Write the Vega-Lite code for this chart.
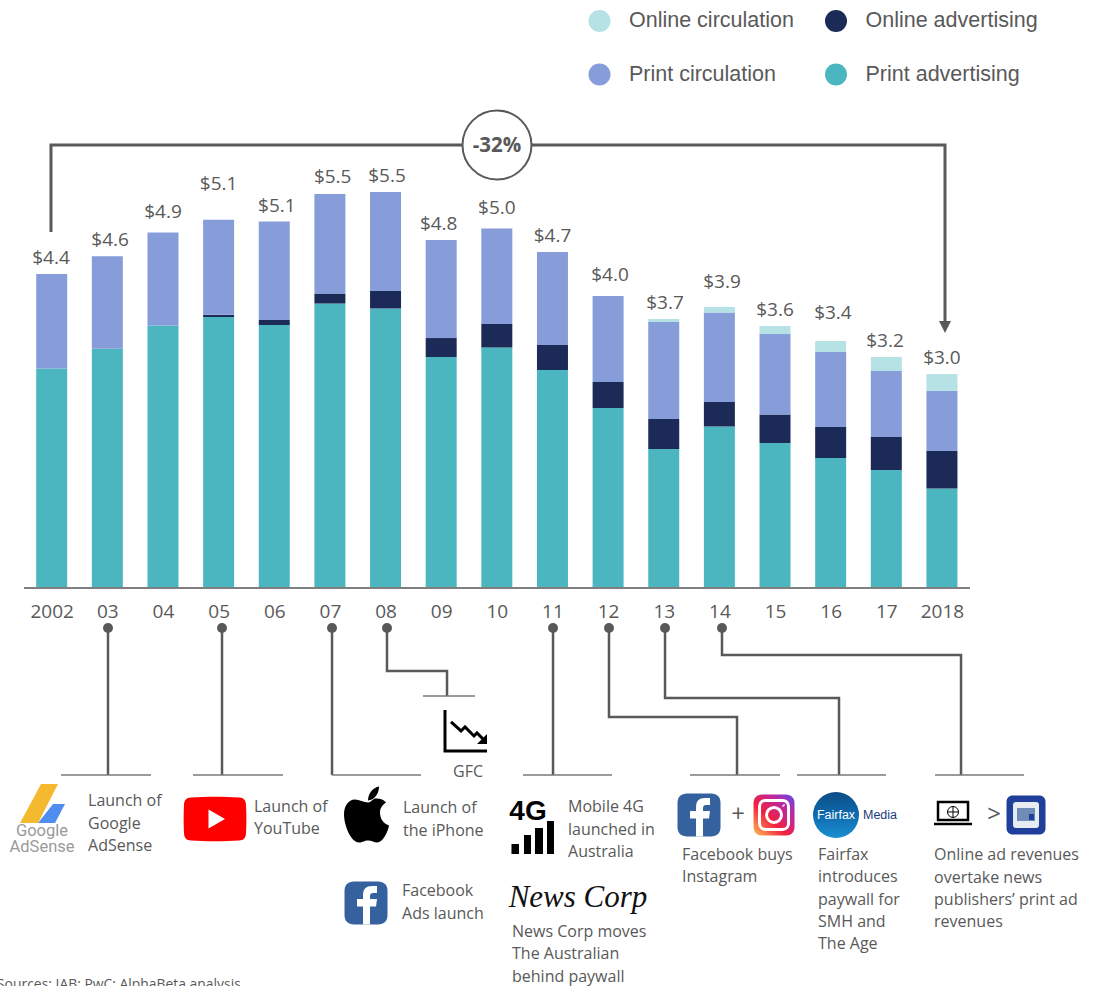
{"$schema":"https://vega.github.io/schema/vega-lite/v6.json","width":1101,"height":986,"padding":0,"autosize":{"type":"none"},"background":"white","config":{"view":{"stroke":null}},
"encoding":{"x":{"field":"year","type":"quantitative","title":null,"scale":{"domain":[2001.0708,2020.8587],"nice":false,"zero":false,"padding":0},"axis":{"values":[2002,2003,2004,2005,2006,2007,2008,2009,2010,2011,2012,2013,2014,2015,2016,2017,2018],"labelExpr":"datum.value==2002||datum.value==2018?format(datum.value,'d'):slice(format(datum.value,'d'),2)","offset":-398,"domain":false,"ticks":false,"tickSize":0,"grid":false,"labelPadding":14,"labelFont":"Open Sans","labelFontSize":19,"labelColor":"#595959","labelOverlap":false,"labelFlush":false,"title":null}},"y":{"field":"value","type":"quantitative","title":null,"scale":{"domain":[-5.5587,8.2123],"nice":false,"zero":false},"axis":null}},
"layer":[
{"data":{"values":[
{"year":2002,"stream":"Print advertising","rank":1,"value":3.066},{"year":2002,"stream":"Print circulation","rank":3,"value":1.32},
{"year":2003,"stream":"Print advertising","rank":1,"value":3.34},{"year":2003,"stream":"Print circulation","rank":3,"value":1.295},
{"year":2004,"stream":"Print advertising","rank":1,"value":3.666},{"year":2004,"stream":"Print circulation","rank":3,"value":1.3},
{"year":2005,"stream":"Print advertising","rank":1,"value":3.785},{"year":2005,"stream":"Online advertising","rank":2,"value":0.03},{"year":2005,"stream":"Print circulation","rank":3,"value":1.327},
{"year":2006,"stream":"Print advertising","rank":1,"value":3.673},{"year":2006,"stream":"Online advertising","rank":2,"value":0.07},{"year":2006,"stream":"Print circulation","rank":3,"value":1.376},
{"year":2007,"stream":"Print advertising","rank":1,"value":3.973},{"year":2007,"stream":"Online advertising","rank":2,"value":0.133},{"year":2007,"stream":"Print circulation","rank":3,"value":1.397},
{"year":2008,"stream":"Print advertising","rank":1,"value":3.904},{"year":2008,"stream":"Online advertising","rank":2,"value":0.244},{"year":2008,"stream":"Print circulation","rank":3,"value":1.383},
{"year":2009,"stream":"Print advertising","rank":1,"value":3.226},{"year":2009,"stream":"Online advertising","rank":2,"value":0.265},{"year":2009,"stream":"Print circulation","rank":3,"value":1.369},
{"year":2010,"stream":"Print advertising","rank":1,"value":3.359},{"year":2010,"stream":"Online advertising","rank":2,"value":0.328},{"year":2010,"stream":"Print circulation","rank":3,"value":1.334},
{"year":2011,"stream":"Print advertising","rank":1,"value":3.045},{"year":2011,"stream":"Online advertising","rank":2,"value":0.349},{"year":2011,"stream":"Print circulation","rank":3,"value":1.299},
{"year":2012,"stream":"Print advertising","rank":1,"value":2.514},{"year":2012,"stream":"Online advertising","rank":2,"value":0.363},{"year":2012,"stream":"Print circulation","rank":3,"value":1.201},
{"year":2013,"stream":"Print advertising","rank":1,"value":1.941},{"year":2013,"stream":"Online advertising","rank":2,"value":0.419},{"year":2013,"stream":"Print circulation","rank":3,"value":1.355},{"year":2013,"stream":"Online circulation","rank":4,"value":0.042},
{"year":2014,"stream":"Print advertising","rank":1,"value":2.256},{"year":2014,"stream":"Online advertising","rank":2,"value":0.342},{"year":2014,"stream":"Print circulation","rank":3,"value":1.25},{"year":2014,"stream":"Online circulation","rank":4,"value":0.077},
{"year":2015,"stream":"Print advertising","rank":1,"value":2.025},{"year":2015,"stream":"Online advertising","rank":2,"value":0.398},{"year":2015,"stream":"Print circulation","rank":3,"value":1.124},{"year":2015,"stream":"Online circulation","rank":4,"value":0.112},
{"year":2016,"stream":"Print advertising","rank":1,"value":1.816},{"year":2016,"stream":"Online advertising","rank":2,"value":0.433},{"year":2016,"stream":"Print circulation","rank":3,"value":1.047},{"year":2016,"stream":"Online circulation","rank":4,"value":0.154},
{"year":2017,"stream":"Print advertising","rank":1,"value":1.648},{"year":2017,"stream":"Online advertising","rank":2,"value":0.461},{"year":2017,"stream":"Print circulation","rank":3,"value":0.922},{"year":2017,"stream":"Online circulation","rank":4,"value":0.196},
{"year":2018,"stream":"Print advertising","rank":1,"value":1.39},{"year":2018,"stream":"Online advertising","rank":2,"value":0.524},{"year":2018,"stream":"Print circulation","rank":3,"value":0.838},{"year":2018,"stream":"Online circulation","rank":4,"value":0.237}
]},"mark":{"type":"bar","size":31},"encoding":{"color":{"field":"stream","type":"nominal","scale":{"domain":["Online circulation","Online advertising","Print circulation","Print advertising"],"range":["#B6E2E6","#1B2A56","#869DDA","#4CB6C0"]},"legend":{"orient":"none","legendX":588.5,"legendY":10,"title":null,"columns":2,"direction":"horizontal","symbolType":"circle","symbolSize":484,"symbolStrokeWidth":0,"labelFontSize":21.5,"labelFont":"Liberation Sans","labelColor":"#595959","labelOffset":18.5,"rowPadding":31.5,"columnPadding":30.5,"labelLimit":300}},"order":{"field":"rank","type":"quantitative"}}},
{"data":{"values":[{"year":2001.502,"value":0,"step":1},{"year":2018.504,"value":0,"step":2}]},"mark":{"type":"line","color":"#7f7f7f","strokeWidth":2},"encoding":{"order":{"field":"step","type":"quantitative"}}},
{"data":{"values":[
{"year":2001.987,"value":4.623,"text":"$4.4"},{"year":2003.049,"value":4.874,"text":"$4.6"},{"year":2004,"value":5.265,"text":"$4.9"},{"year":2005,"value":5.656,"text":"$5.1"},{"year":2006.046,"value":5.349,"text":"$5.1"},{"year":2007.05,"value":5.754,"text":"$5.5"},{"year":2008.027,"value":5.768,"text":"$5.5"},{"year":2008.955,"value":5.098,"text":"$4.8"},{"year":2010,"value":5.321,"text":"$5.0"},{"year":2011,"value":4.93,"text":"$4.7"},{"year":2012.034,"value":4.385,"text":"$4.0"},{"year":2013.023,"value":3.994,"text":"$3.7"},{"year":2014.047,"value":4.288,"text":"$3.9"},{"year":2015,"value":3.897,"text":"$3.6"},{"year":2016.041,"value":3.855,"text":"$3.4"},{"year":2016.977,"value":3.464,"text":"$3.2"},{"year":2018,"value":3.226,"text":"$3.0"}
]},"mark":{"type":"text","font":"Open Sans","fontSize":19,"dy":1,"color":"#595959","align":"center","baseline":"middle"},"encoding":{"text":{"field":"text","type":"nominal"}}},
{"data":{"values":[
{"id":"a","step":1,"year":2001.987,"value":4.972},{"id":"a","step":2,"year":2001.987,"value":6.187},{"id":"a","step":3,"year":2009.374,"value":6.187},
{"id":"b","step":1,"year":2010.632,"value":6.187},{"id":"b","step":2,"year":2018.055,"value":6.187},{"id":"b","step":3,"year":2018.055,"value":3.715}
]},"mark":{"type":"line","color":"#595959","strokeWidth":3,"strokeJoin":"miter"},"encoding":{"detail":{"field":"id"},"order":{"field":"step","type":"quantitative"}}},
{"data":{"values":[{"year":2018.055,"value":3.645}]},"mark":{"type":"point","shape":"M -6 -6 L 6 -6 L 0 6 Z","size":4,"filled":true,"fill":"#595959","opacity":1}},
{"data":{"values":[{"year":2010.003,"value":6.187}]},"mark":{"type":"point","shape":"circle","size":4761,"filled":true,"fill":"white","stroke":"#595959","strokeWidth":2,"opacity":1}},
{"data":{"values":[{"year":2010.003,"value":6.187,"text":"-32%"}]},"mark":{"type":"text","font":"Open Sans","fontSize":20.5,"dy":1,"fontWeight":"bold","color":"#595959","align":"center","baseline":"middle"},"encoding":{"text":{"field":"text","type":"nominal"}}},
{"data":{"name":"leaders","values":[
{"id":"03","step":1,"year":2003.012,"value":-0.559},{"id":"03","step":2,"year":2003.012,"value":-2.612},
{"id":"05","step":1,"year":2005.061,"value":-0.559},{"id":"05","step":2,"year":2005.061,"value":-2.612},
{"id":"07","step":1,"year":2007.038,"value":-0.559},{"id":"07","step":2,"year":2007.038,"value":-2.612},
{"id":"08","step":1,"year":2008.026,"value":-0.559},{"id":"08","step":2,"year":2008.026,"value":-1.159},{"id":"08","step":3,"year":2009.105,"value":-1.159},{"id":"08","step":4,"year":2009.105,"value":-1.508},
{"id":"11","step":1,"year":2011.01,"value":-0.559},{"id":"11","step":2,"year":2011.01,"value":-2.612},
{"id":"12","step":1,"year":2012.016,"value":-0.559},{"id":"12","step":2,"year":2012.016,"value":-1.802},{"id":"12","step":3,"year":2014.317,"value":-1.802},{"id":"12","step":4,"year":2014.317,"value":-2.612},
{"id":"13","step":1,"year":2013.023,"value":-0.559},{"id":"13","step":2,"year":2013.023,"value":-1.536},{"id":"13","step":3,"year":2016.15,"value":-1.536},{"id":"13","step":4,"year":2016.15,"value":-2.612},
{"id":"14","step":1,"year":2014.047,"value":-0.559},{"id":"14","step":2,"year":2014.047,"value":-0.936},{"id":"14","step":3,"year":2018.343,"value":-0.936},{"id":"14","step":4,"year":2018.343,"value":-2.612}
]},"layer":[
{"mark":{"type":"line","color":"#595959","strokeWidth":2.5,"strokeJoin":"miter"},"encoding":{"detail":{"field":"id"},"order":{"field":"step","type":"quantitative"}}},
{"transform":[{"filter":"datum.step==1"}],"mark":{"type":"point","shape":"circle","size":100,"filled":true,"fill":"#595959","opacity":1}}
]},
{"data":{"values":[
{"id":"03","step":1,"year":2002.167,"value":-2.612},{"id":"03","step":2,"year":2003.785,"value":-2.612},
{"id":"05","step":1,"year":2004.54,"value":-2.612},{"id":"05","step":2,"year":2006.157,"value":-2.612},
{"id":"07","step":1,"year":2007.038,"value":-2.612},{"id":"07","step":2,"year":2008.637,"value":-2.612},
{"id":"08","step":1,"year":2008.673,"value":-1.508},{"id":"08","step":2,"year":2009.608,"value":-1.508},
{"id":"11","step":1,"year":2010.471,"value":-2.612},{"id":"11","step":2,"year":2012.07,"value":-2.612},
{"id":"12","step":1,"year":2013.472,"value":-2.612},{"id":"12","step":2,"year":2015.09,"value":-2.612},
{"id":"13","step":1,"year":2015.395,"value":-2.612},{"id":"13","step":2,"year":2016.995,"value":-2.612},
{"id":"14","step":1,"year":2017.876,"value":-2.612},{"id":"14","step":2,"year":2019.475,"value":-2.612}
]},"mark":{"type":"line","color":"#7a7a7a","strokeWidth":1.5},"encoding":{"detail":{"field":"id"},"order":{"field":"step","type":"quantitative"}}},
{"data":{"values":[
{"year":2002.653,"value":-2.961,"text":"Launch of"},{"year":2002.653,"value":-3.282,"text":"Google"},{"year":2002.653,"value":-3.589,"text":"AdSense"},
{"year":2005.636,"value":-3.045,"text":"Launch of"},{"year":2005.636,"value":-3.352,"text":"YouTube"},
{"year":2008.314,"value":-3.059,"text":"Launch of"},{"year":2008.314,"value":-3.38,"text":"the iPhone"},
{"year":2008.296,"value":-4.218,"text":"Facebook"},{"year":2008.296,"value":-4.539,"text":"Ads launch"},
{"year":2009.213,"value":-2.556,"text":"GFC"},
{"year":2011.28,"value":-3.045,"text":"Mobile 4G"},{"year":2011.28,"value":-3.366,"text":"launched in"},{"year":2011.28,"value":-3.673,"text":"Australia"},
{"year":2010.273,"value":-4.791,"text":"News Corp moves"},{"year":2010.273,"value":-5.098,"text":"The Australian"},{"year":2010.273,"value":-5.419,"text":"behind paywall"},
{"year":2013.328,"value":-3.715,"text":"Facebook buys"},{"year":2013.328,"value":-4.022,"text":"Instagram"},
{"year":2015.773,"value":-3.715,"text":"Fairfax"},{"year":2015.773,"value":-4.022,"text":"introduces"},{"year":2015.773,"value":-4.344,"text":"paywall for"},{"year":2015.773,"value":-4.651,"text":"SMH and"},{"year":2015.773,"value":-4.958,"text":"The Age"},
{"year":2017.858,"value":-3.715,"text":"Online ad revenues"},{"year":2017.858,"value":-4.036,"text":"overtake news"},{"year":2017.858,"value":-4.344,"text":"publishers’ print ad"},{"year":2017.858,"value":-4.651,"text":"revenues"}
]},"mark":{"type":"text","font":"Open Sans","fontSize":16,"dy":1,"color":"#595959","align":"left","baseline":"middle"},"encoding":{"text":{"field":"text","type":"nominal"}}},
{"data":{"values":[{"year":2001.017,"value":-5.545,"text":"Sources: IAB; PwC; AlphaBeta analysis"}]},"mark":{"type":"text","font":"Open Sans","fontSize":13.9,"color":"#595959","align":"left","baseline":"middle"},"encoding":{"text":{"field":"text","type":"nominal"}}},
{"data":{"values":[{"year":2001.826,"value":-3.017}]},"mark":{"type":"point","shape":"M -1 -20 L 16 -20 L -4 19 L -22 19 Z","size":4,"filled":true,"fill":"#F4B92F","opacity":1}},
{"data":{"values":[{"year":2001.826,"value":-3.017}]},"mark":{"type":"point","shape":"M 11 0 L 23 0 L 13 19 L -4 19 Z","size":4,"filled":true,"fill":"#4F8EF0","opacity":1}},
{"data":{"values":[{"year":2001.826,"value":-3.394,"text":"Google"},{"year":2001.826,"value":-3.617,"text":"AdSense"}]},"mark":{"type":"text","font":"Roboto","fontSize":16.5,"color":"#9a9a9a","align":"center","baseline":"middle"},"encoding":{"text":{"field":"text","type":"nominal"}}},
{"data":{"values":[{"year":2004.935,"value":-3.226}]},"mark":{"type":"point","shape":"M -24 -21.5 C -10 -22.5 10 -22.5 24 -21.5 C 29 -21.5 31 -18 31 -14 C 31.5 -5 31.5 5 31 14 C 31 18 29 21.5 24 21.5 C 10 22.5 -10 22.5 -24 21.5 C -29 21.5 -31 18 -31 14 C -31.5 5 -31.5 -5 -31 -14 C -31 -18 -29 -21.5 -24 -21.5 Z","size":4,"filled":true,"fill":"#FF0000","opacity":1}},
{"data":{"values":[{"year":2004.935,"value":-3.226}]},"mark":{"type":"point","shape":"M -6.5 -9.5 L 10 0 L -6.5 9.5 Z","size":4,"filled":true,"fill":"white","opacity":1}},
{"data":{"values":[{"year":2007.667,"value":-3.177}]},"mark":{"type":"point","shape":"M 1 -13 C -3 -13 -8 -16 -12 -16 C -19 -16 -23 -9 -23 -1 C -23 10 -16 27 -8 27 C -4 27 -3 25 1 25 C 5 25 7 27 10 27 C 16 27 21 16 22 10 C 16 8 13 3 13 -3 C 13 -8 16 -11 19 -13 C 16 -17 11 -17 8 -17 C 6 -17 4 -13 1 -13 Z M 1 -15 C 1 -22 6 -28 12 -29 C 12 -22 8 -16 1 -15 Z","size":4,"filled":true,"fill":"black","opacity":1}},
{"data":{"values":[{"year":2007.649,"value":-4.399},{"year":2013.634,"value":-3.17}]},"layer":[
{"mark":{"type":"point","shape":"M -12 -21.5 L 12 -21.5 C 18 -21.5 21.5 -18 21.5 -12 L 21.5 12 C 21.5 18 18 21.5 12 21.5 L -12 21.5 C -18 21.5 -21.5 18 -21.5 12 L -21.5 -12 C -21.5 -18 -18 -21.5 -12 -21.5 Z","size":4,"filled":true,"fill":"#36619F","opacity":1}},
{"mark":{"type":"point","shape":"M -3 21.5 L -3 3.5 L -9 3.5 L -9 -4 L -3 -4 L -3 -8 C -3 -14 0 -17 6 -17 L 11 -17 L 11 -10 L 7 -10 C 5 -10 4 -9 4 -7 L 4 -4 L 11 -4 L 10 3.5 L 4 3.5 L 4 21.5 Z","size":4,"filled":true,"fill":"white","opacity":1}}
]},
{"data":{"values":[{"year":2010.65,"value":-3.492}]},"mark":{"type":"point","shape":"M -21.5 6 L -14 6 L -14 16 L -21.5 16 Z M -9 -3 L -2 -3 L -2 16 L -9 16 Z M 2 -10 L 10 -10 L 10 16 L 2 16 Z M 14 -17 L 21 -17 L 21 16 L 14 16 Z","size":4,"filled":true,"fill":"black","opacity":1}},
{"data":{"values":[{"year":2010.56,"value":-3.128,"text":"4G"}]},"mark":{"type":"text","font":"Liberation Sans","fontSize":28,"fontWeight":"bold","color":"black","align":"center","baseline":"middle"},"encoding":{"text":{"field":"text","type":"nominal"}}},
{"data":{"values":[{"year":2011.459,"value":-4.33,"text":"News Corp"}]},"mark":{"type":"text","font":"Liberation Serif","fontSize":31,"fontStyle":"italic","color":"#111111","align":"center","baseline":"middle"},"encoding":{"text":{"field":"text","type":"nominal"}}},
{"data":{"values":[{"year":2014.335,"value":-3.17,"text":"+"},{"year":2018.936,"value":-3.17,"text":">"}]},"mark":{"type":"text","font":"Open Sans","fontSize":24,"color":"#595959","align":"center","baseline":"middle"},"encoding":{"text":{"field":"text","type":"nominal"}}},
{"data":{"values":[{"year":2014.982,"value":-3.17}]},"layer":[
{"mark":{"type":"point","shape":"M -12 -20.5 L 12 -20.5 C 17 -20.5 20.5 -17 20.5 -12 L 20.5 12 C 20.5 17 17 20.5 12 20.5 L -12 20.5 C -17 20.5 -20.5 17 -20.5 12 L -20.5 -12 C -20.5 -17 -17 -20.5 -12 -20.5 Z","size":4,"filled":true,"opacity":1,"fill":{"gradient":"linear","x1":0,"y1":1,"x2":1,"y2":0,"stops":[{"offset":0,"color":"#FEC053"},{"offset":0.4,"color":"#F2203E"},{"offset":0.75,"color":"#B729A8"},{"offset":1,"color":"#5B4FE9"}]}}},
{"mark":{"type":"point","shape":"M -8.5 -14.5 L 8.5 -14.5 C 12 -14.5 14.5 -12 14.5 -8.5 L 14.5 8.5 C 14.5 12 12 14.5 8.5 14.5 L -8.5 14.5 C -12 14.5 -14.5 12 -14.5 8.5 L -14.5 -8.5 C -14.5 -12 -12 -14.5 -8.5 -14.5 Z M 7.5 0 C 7.5 4.1 4.1 7.5 0 7.5 C -4.1 7.5 -7.5 4.1 -7.5 0 C -7.5 -4.1 -4.1 -7.5 0 -7.5 C 4.1 -7.5 7.5 -4.1 7.5 0 Z M 9 -10 L 10 -9","size":4,"filled":false,"stroke":"white","strokeWidth":3,"opacity":1}}
]},
{"data":{"values":[{"year":2016.096,"value":-3.17}]},"mark":{"type":"point","shape":"circle","size":2116,"filled":true,"opacity":1,"fill":{"gradient":"linear","x1":0,"y1":0,"x2":0,"y2":1,"stops":[{"offset":0,"color":"#0B4C84"},{"offset":0.5,"color":"#0F6AAE"},{"offset":1,"color":"#1A8FD2"}]}}},
{"data":{"values":[{"year":2016.096,"value":-3.17,"text":"Fairfax"}]},"mark":{"type":"text","font":"Liberation Sans","fontSize":12.5,"color":"white","align":"center","baseline":"middle"},"encoding":{"text":{"field":"text","type":"nominal"}}},
{"data":{"values":[{"year":2016.887,"value":-3.17,"text":"Media"}]},"mark":{"type":"text","font":"Liberation Sans","fontSize":12.5,"color":"#1B3A7A","align":"center","baseline":"middle"},"encoding":{"text":{"field":"text","type":"nominal"}}},
{"data":{"values":[{"year":2018.199,"value":-3.128}]},"layer":[
{"mark":{"type":"point","shape":"M -15 -10 L 15 -10 L 15 8 L -15 8 Z M -19 12 L 19 12","size":4,"filled":false,"stroke":"black","strokeWidth":2.5,"opacity":1}},
{"mark":{"type":"point","shape":"M 5.5 0 C 5.5 3 3 5.5 0 5.5 C -3 5.5 -5.5 3 -5.5 0 C -5.5 -3 -3 -5.5 0 -5.5 C 3 -5.5 5.5 -3 5.5 0 Z M 0 -5.5 L 0 5.5 M -5.5 0 L 5.5 0","size":4,"filled":false,"stroke":"black","strokeWidth":1,"opacity":1}}
]},
{"data":{"values":[{"year":2019.511,"value":-3.17}]},"layer":[
{"mark":{"type":"point","shape":"M -13 -19.5 L 13 -19.5 C 17 -19.5 19.5 -17 19.5 -13 L 19.5 13 C 19.5 17 17 19.5 13 19.5 L -13 19.5 C -17 19.5 -19.5 17 -19.5 13 L -19.5 -13 C -19.5 -17 -17 -19.5 -13 -19.5 Z","size":4,"filled":true,"fill":"#1F3F9A","opacity":1}},
{"mark":{"type":"point","shape":"M -10 -13 L 10 -13 C 12 -13 13 -12 13 -10 L 13 10 C 13 12 12 13 10 13 L -10 13 C -12 13 -13 12 -13 10 L -13 -10 C -13 -12 -12 -13 -10 -13 Z","size":4,"filled":true,"fill":"#E6ECF2","opacity":1}},
{"mark":{"type":"point","shape":"M -9 -7 L 9 -7 L 9 6 L -9 6 Z","size":4,"filled":true,"fill":"#6F8BB8","opacity":1}},
{"mark":{"type":"point","shape":"M 3 -1 L 8 -1 L 8 5 L 3 5 Z","size":4,"filled":true,"fill":"#1F3F9A","opacity":1}}
]},
{"data":{"values":[{"year":2009.446,"value":-1.997}]},"layer":[
{"mark":{"type":"point","shape":"M -21 -21 L -21 20 L 21 20 M -15 -9 L -5 0 L -1 -4 L 8 5 L 11 2 L 18 9","size":4,"filled":false,"stroke":"black","strokeWidth":3,"opacity":1}},
{"mark":{"type":"point","shape":"M 21 3 L 21 13 L 11 13 Z","size":4,"filled":true,"fill":"black","opacity":1}}
]}
]}
